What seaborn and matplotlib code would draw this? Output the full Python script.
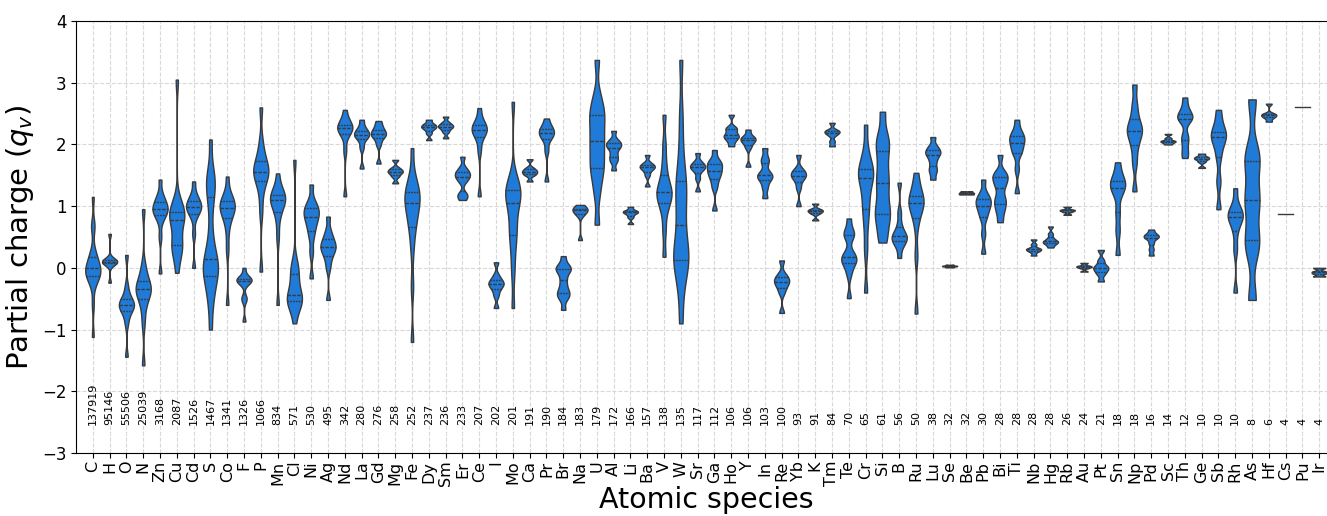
import numpy as np
import pandas as pd
import matplotlib
matplotlib.use("Agg")
import matplotlib.pyplot as plt
import seaborn as sns

species = ["C", "H", "O", "N", "Zn", "Cu", "Cd", "S", "Co", "F", "P", "Mn", "Cl", "Ni", "Ag",
           "Nd", "La", "Gd", "Mg", "Fe", "Dy", "Sm", "Er", "Ce", "I", "Mo", "Ca", "Pr", "Br",
           "Na", "U", "Al", "Li", "Ba", "V", "W", "Sr", "Ga", "Ho", "Y", "In", "Re", "Yb", "K",
           "Tm", "Te", "Cr", "Si", "B", "Ru", "Lu", "Se", "Be", "Pb", "Bi", "Ti", "Nb", "Hg",
           "Rb", "Au", "Pt", "Sn", "Np", "Pd", "Sc", "Th", "Ge", "Sb", "Rh", "As", "Hf", "Cs",
           "Pu", "Ir"]

counts = [137919, 95146, 55506, 25039, 3168, 2087, 1526, 1467, 1341, 1326, 1066, 834, 571,
          530, 495, 342, 280, 276, 258, 252, 237, 236, 233, 207, 202, 201, 191, 190, 184, 183,
          179, 172, 166, 157, 138, 135, 117, 112, 106, 106, 103, 100, 93, 91, 84, 70, 65, 61,
          56, 50, 38, 32, 32, 30, 28, 28, 28, 28, 26, 24, 21, 18, 18, 16, 14, 12, 10, 10, 10,
          8, 6, 4, 4, 4]

# representative partial-charge values (one list per species)
charge_samples = [
    [-1.12, -0.6, -0.3, -0.2, -0.15, -0.12, -0.1, -0.08, -0.05, 0.0, 0.0, 0.05, 0.1, 0.15, 0.2, 0.3, 0.65, 0.7, 1.15],  # C
    [-0.24, 0.05, 0.08, 0.1, 0.1, 0.1, 0.12, 0.15, 0.55],  # H
    [-1.44, -0.9, -0.75, -0.68, -0.63, -0.6, -0.6, -0.57, -0.52, -0.45, -0.3, 0.21],  # O
    [-1.58, -0.9, -0.65, -0.5, -0.42, -0.38, -0.35, -0.32, -0.28, -0.22, -0.1, 0.05, 0.95],  # N
    [-0.09, 0.5, 0.75, 0.85, 0.88, 0.92, 0.95, 0.98, 1.02, 1.06, 1.12, 1.2, 1.43],  # Zn
    [-0.08, 0.2, 0.3, 0.35, 0.38, 0.45, 0.7, 0.78, 0.82, 0.85, 0.88, 0.92, 0.98, 1.1, 3.05],  # Cu
    [0.0, 0.55, 0.8, 0.9, 0.93, 0.97, 1.0, 1.03, 1.07, 1.12, 1.2, 1.4],  # Cd
    [-1.0, -0.6, -0.4, -0.25, -0.15, -0.05, 0.0, 0.05, 0.1, 0.2, 0.35, 0.6, 1.0, 1.2, 1.35, 1.45, 1.55, 2.08],  # S
    [-0.6, 0.3, 0.6, 0.8, 0.85, 0.92, 0.97, 1.0, 1.03, 1.08, 1.12, 1.2, 1.48],  # Co
    [-0.87, -0.52, -0.48, -0.25, -0.22, -0.2, -0.19, -0.18, -0.16, 0.0],  # F
    [-0.06, 0.9, 1.2, 1.4, 1.46, 1.52, 1.56, 1.6, 1.66, 1.73, 1.85, 2.05, 2.6],  # P
    [-0.6, 0.5, 0.8, 0.95, 1.03, 1.08, 1.12, 1.15, 1.17, 1.2, 1.3, 1.53],  # Mn
    [-0.9, -0.65, -0.58, -0.54, -0.52, -0.5, -0.47, -0.42, -0.3, -0.15, -0.08, 0.0, 0.1, 1.75],  # Cl
    [-0.17, 0.25, 0.5, 0.63, 0.72, 0.8, 0.85, 0.9, 0.95, 1.0, 1.08, 1.35],  # Ni
    [-0.52, 0.0, 0.15, 0.24, 0.3, 0.34, 0.37, 0.43, 0.5, 0.6, 0.83],  # Ag
    [1.16, 1.9, 2.15, 2.22, 2.25, 2.27, 2.3, 2.33, 2.4, 2.56],  # Nd
    [1.61, 1.95, 2.08, 2.13, 2.16, 2.18, 2.22, 2.28, 2.4],  # La
    [1.69, 2.0, 2.1, 2.14, 2.17, 2.2, 2.24, 2.3, 2.38],  # Gd
    [1.37, 1.48, 1.53, 1.56, 1.58, 1.62, 1.75],  # Mg
    [-1.2, -0.3, 0.3, 0.6, 0.72, 0.85, 0.95, 1.05, 1.1, 1.15, 1.2, 1.27, 1.35, 1.5, 1.94],  # Fe
    [2.07, 2.18, 2.24, 2.27, 2.29, 2.31, 2.34, 2.4],  # Dy
    [2.1, 2.2, 2.25, 2.28, 2.3, 2.32, 2.36, 2.45],  # Sm
    [1.1, 1.17, 1.2, 1.4, 1.45, 1.5, 1.52, 1.56, 1.62, 1.8],  # Er
    [1.16, 1.9, 2.1, 2.18, 2.22, 2.25, 2.28, 2.32, 2.4, 2.59],  # Ce
    [-0.65, -0.45, -0.35, -0.3, -0.26, -0.23, -0.2, -0.12, 0.09],  # I
    [-0.65, -0.1, 0.2, 0.45, 0.55, 0.7, 0.85, 1.0, 1.1, 1.15, 1.2, 1.25, 1.3, 1.38, 1.5, 2.69],  # Mo
    [1.4, 1.5, 1.53, 1.56, 1.58, 1.62, 1.76],  # Ca
    [1.4, 1.9, 2.08, 2.14, 2.18, 2.21, 2.25, 2.3, 2.42],  # Pr
    [-0.68, -0.5, -0.45, -0.4, -0.35, -0.25, -0.15, -0.05, -0.02, 0.0, 0.05, 0.19],  # Br
    [0.45, 0.85, 0.9, 0.93, 0.95, 0.97, 1.02],  # Na
    [0.7, 1.2, 1.45, 1.6, 1.7, 1.85, 2.0, 2.1, 2.25, 2.4, 2.5, 2.6, 2.8, 3.37],  # U
    [1.58, 1.72, 1.78, 1.85, 1.93, 1.97, 2.0, 2.03, 2.08, 2.22],  # Al
    [0.71, 0.82, 0.87, 0.9, 0.91, 0.93, 0.99],  # Li
    [1.32, 1.5, 1.58, 1.62, 1.64, 1.66, 1.7, 1.83],  # Ba
    [0.18, 0.6, 0.9, 1.05, 1.12, 1.18, 1.23, 1.28, 1.35, 1.5, 1.7, 2.0, 2.48],  # V
    [-0.9, -0.4, -0.1, 0.05, 0.12, 0.2, 0.3, 0.45, 0.7, 0.9, 1.1, 1.3, 1.4, 1.6, 2.0, 2.5, 3.37],  # W
    [1.24, 1.45, 1.57, 1.62, 1.64, 1.67, 1.72, 1.86],  # Sr
    [0.93, 1.3, 1.42, 1.5, 1.55, 1.6, 1.66, 1.7, 1.74, 1.91],  # Ga
    [1.97, 2.05, 2.1, 2.13, 2.15, 2.2, 2.25, 2.28, 2.48],  # Ho
    [1.64, 1.95, 2.03, 2.07, 2.1, 2.12, 2.24],  # Y
    [1.13, 1.3, 1.42, 1.47, 1.5, 1.55, 1.7, 1.78, 1.94],  # In
    [-0.73, -0.4, -0.3, -0.25, -0.2, -0.17, -0.1, 0.12],  # Re
    [1.0, 1.3, 1.43, 1.48, 1.51, 1.55, 1.6, 1.83],  # Yb
    [0.77, 0.88, 0.91, 0.93, 0.95, 1.04],  # K
    [1.97, 2.05, 2.15, 2.19, 2.21, 2.23, 2.35],  # Tm
    [-0.49, -0.1, 0.05, 0.1, 0.15, 0.18, 0.25, 0.5, 0.55, 0.6, 0.8],  # Te
    [-0.4, 0.3, 0.7, 0.95, 1.1, 1.3, 1.45, 1.5, 1.55, 1.6, 1.7, 1.9, 2.32],  # Cr
    [0.41, 0.6, 0.8, 0.88, 1.0, 1.2, 1.37, 1.5, 1.7, 1.9, 2.03, 2.15, 2.53],  # Si
    [0.16, 0.35, 0.42, 0.46, 0.5, 0.53, 0.57, 0.7, 0.9, 1.38],  # B
    [-0.74, 0.2, 0.7, 0.9, 1.0, 1.05, 1.08, 1.12, 1.2, 1.35, 1.54],  # Ru
    [1.43, 1.55, 1.62, 1.72, 1.8, 1.85, 1.88, 1.92, 1.98, 2.12],  # Lu
    [0.01, 0.025, 0.03, 0.035, 0.05],  # Se
    [1.19, 1.2, 1.21, 1.22, 1.24],  # Be
    [0.23, 0.55, 0.8, 0.9, 0.98, 1.04, 1.08, 1.13, 1.2, 1.43],  # Pb
    [0.74, 0.9, 1.0, 1.08, 1.15, 1.3, 1.38, 1.45, 1.5, 1.55, 1.83],  # Bi
    [1.21, 1.6, 1.85, 1.9, 2.0, 2.05, 2.1, 2.15, 2.22, 2.4],  # Ti
    [0.2, 0.26, 0.29, 0.3, 0.32, 0.38, 0.46],  # Nb
    [0.33, 0.38, 0.41, 0.42, 0.44, 0.48, 0.55, 0.67],  # Hg
    [0.86, 0.91, 0.93, 0.94, 0.99],  # Rb
    [-0.06, 0.0, 0.02, 0.03, 0.08],  # Au
    [-0.22, -0.1, -0.04, 0.0, 0.03, 0.12, 0.29],  # Pt
    [0.21, 0.6, 0.9, 1.2, 1.3, 1.35, 1.4, 1.5, 1.71],  # Sn
    [1.24, 1.7, 1.95, 2.1, 2.2, 2.25, 2.3, 2.45, 2.65, 2.97],  # Np
    [0.2, 0.3, 0.4, 0.48, 0.5, 0.52, 0.55, 0.62],  # Pd
    [2.0, 2.03, 2.05, 2.06, 2.1, 2.17],  # Sc
    [1.78, 1.9, 2.05, 2.15, 2.38, 2.43, 2.45, 2.5, 2.6, 2.76],  # Th
    [1.62, 1.72, 1.76, 1.78, 1.8, 1.85],  # Ge
    [0.95, 1.4, 1.8, 2.0, 2.12, 2.15, 2.2, 2.35, 2.56],  # Sb
    [-0.4, 0.3, 0.6, 0.78, 0.82, 0.85, 0.9, 1.0, 1.29],  # Rh
    [-0.52, 0.3, 0.5, 1.0, 1.2, 1.7, 1.85, 2.73],  # As
    [2.37, 2.43, 2.46, 2.48, 2.5, 2.66],  # Hf
    [0.87, 0.87, 0.87, 0.87],  # Cs
    [2.6, 2.6, 2.6, 2.6],  # Pu
    [-0.14, -0.09, -0.06, 0.0],  # Ir
]

y_ticks = [-3, -2, -1, 0, 1, 2, 3, 4]

rows = []
for sp, vals in zip(species, charge_samples):
    for v in vals:
        rows.append((sp, v))
df = pd.DataFrame(rows, columns=["species", "charge"])

fig = plt.figure(figsize=(13.27, 5.16), dpi=100)
ax = fig.add_axes([76 / 1327, 63 / 516, 1260 / 1327, 432 / 516])

sns.violinplot(data=df, x="species", y="charge", order=species, ax=ax,
               density_norm="width", cut=0, inner="quart", width=0.9,
               color="#1f7ad8", saturation=1, linecolor="#3a3a3a", linewidth=1.0,
               bw_method=0.26)

for i, c in enumerate(counts):
    ax.text(i, -2.55, str(c), rotation=90, ha="center", va="bottom", fontsize=8)

ax.set_xlim(-1, len(species))
ax.set_ylim(-3, 4)
ax.set_yticks(y_ticks)
ax.grid(True, linestyle="--", color="#d8d8d8", linewidth=0.8)
ax.set_axisbelow(True)
ax.tick_params(axis="x", labelrotation=90, labelsize=11.5, pad=2)
ax.tick_params(axis="y", labelsize=12)
ax.set_xlabel("Atomic species", fontsize=20.5)
ax.xaxis.set_label_coords(0.5, -0.142)
ax.xaxis.label.set_va("bottom")
ax.set_ylabel("Partial charge ($q_v$)", fontsize=21)
ax.spines["right"].set_visible(False)

fig.savefig("out.png", dpi=100)
